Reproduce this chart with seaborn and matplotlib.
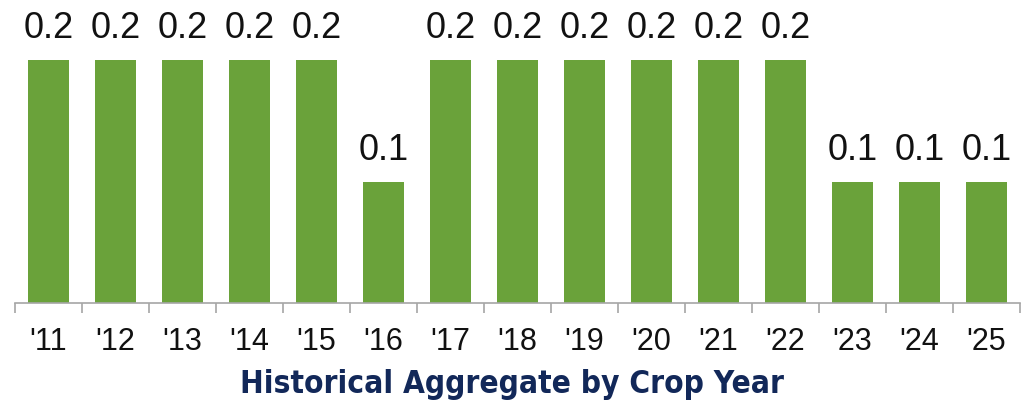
import matplotlib
matplotlib.use("Agg")
import matplotlib.pyplot as plt
import seaborn as sns
import numpy as np
import pandas as pd

years = ["'11", "'12", "'13", "'14", "'15", "'16", "'17", "'18", "'19", "'20", "'21", "'22", "'23", "'24", "'25"]
values = [0.2, 0.2, 0.2, 0.2, 0.2, 0.1, 0.2, 0.2, 0.2, 0.2, 0.2, 0.2, 0.1, 0.1, 0.1]
labels = ["0.2", "0.2", "0.2", "0.2", "0.2", "0.1", "0.2", "0.2", "0.2", "0.2", "0.2", "0.2", "0.1", "0.1", "0.1"]
title = "Historical Aggregate by Crop Year"

sns.set_theme(style="white")
plt.rcParams['font.family'] = ['Liberation Sans', 'DejaVu Sans']

df = pd.DataFrame({"year": years, "value": values})

fig = plt.figure(figsize=(10.24, 4.0), dpi=100)
ax = fig.add_axes([0.0146, 0.2425, 0.9814, 0.7575])

sns.barplot(data=df, x="year", y="value", color="#6aa23a", saturation=1,
            width=0.6, ax=ax, edgecolor="none")

for p, lab in zip(ax.patches, labels):
    ax.annotate(lab, (p.get_x() + p.get_width() / 2, p.get_height()),
                xytext=(0, 10), textcoords="offset points",
                ha="center", va="bottom", fontsize=26, color="#111111")

ax.set_xlim(-0.5, len(years) - 0.5)
ax.set_ylim(0, 0.2494)
ax.set_yticks([])
ax.set_ylabel("")
ax.set_xlabel("")
for s in ["top", "right", "left"]:
    ax.spines[s].set_visible(False)
ax.spines["bottom"].set_color("#a6a6a6")
ax.spines["bottom"].set_linewidth(1.2)

ax.set_xticks(np.arange(len(years)))
ax.set_xticklabels(years, fontsize=22, color="#111111")
ax.set_xticks(np.arange(len(years) + 1) - 0.5, minor=True)
ax.tick_params(axis="x", which="major", length=0, pad=17)
ax.tick_params(axis="x", which="minor", length=7, width=1.2, color="#a6a6a6", bottom=True)

fig.text(0.5, 0.0175, title, ha="center", va="baseline", fontsize=22.7,
         fontweight="heavy", color="#122859",
         family=['Liberation Sans Narrow', 'DejaVu Sans'], fontstretch="condensed")

fig.savefig("out.png", dpi=100)
